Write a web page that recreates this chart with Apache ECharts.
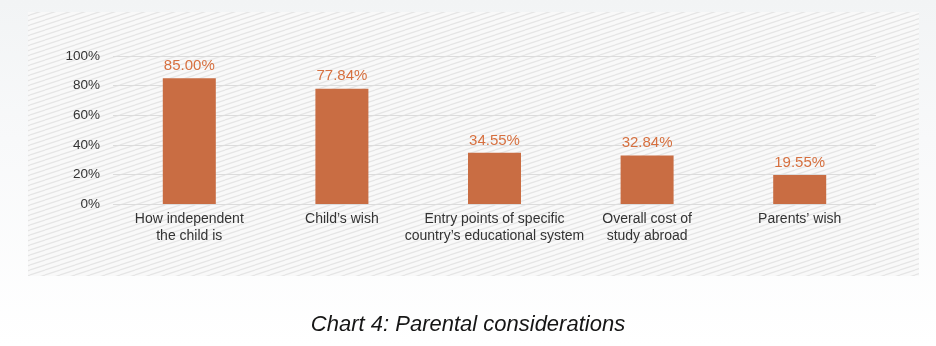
<!DOCTYPE html>
<html>
<head>
<meta charset="utf-8">
<script src="https://cdn.jsdelivr.net/npm/echarts@6/dist/echarts.min.js"></script>
<style>
  html, body { margin: 0; padding: 0; }
  body { width: 936px; height: 346px; background: linear-gradient(180deg, #f2f4f5 0%, #f8f9fa 40%, #ffffff 100%); }
  #chart { width: 936px; height: 346px; }
</style>
</head>
<body>
<div id="chart"></div>
<script>
// Parental considerations: share of respondents per factor
const categories = [
  'How independent\nthe child is',
  'Child\u2019s wish',
  'Entry points of specific\ncountry\u2019s educational system',
  'Overall cost of\nstudy abroad',
  'Parents\u2019 wish'
];
const shares = [85.00, 77.84, 34.55, 32.84, 19.55];
const yTicks = [0, 20, 40, 60, 80, 100];

const FONT = '"Liberation Sans", Arial, Helvetica, sans-serif';

// Diagonal hatch tile for the panel behind the plot
function hatchTile() {
  const c = document.createElement('canvas');
  const w = 15, h = 5;
  c.width = w; c.height = h;
  const ctx = c.getContext('2d');
  ctx.fillStyle = '#f9f9f9';
  ctx.fillRect(0, 0, w, h);
  ctx.strokeStyle = '#e5e5e5';
  ctx.lineWidth = 1.2;
  for (const dy of [-h, 0, h]) {
    ctx.beginPath();
    ctx.moveTo(0, h + dy);
    ctx.lineTo(w, 0 + dy);
    ctx.stroke();
  }
  return c;
}

const chart = echarts.init(document.getElementById('chart'), null, { renderer: 'canvas' });
chart.setOption({
  backgroundColor: 'transparent',
  animation: false,
  graphic: [
    {
      type: 'rect',
      z: -10,
      shape: { x: 28, y: 12, width: 891, height: 264 },
      style: { fill: { image: hatchTile(), repeat: 'repeat' } }
    },
    {
      type: 'text',
      left: 'center',
      top: 314,
      style: {
        text: 'Chart 4: Parental considerations',
        font: 'italic 22px ' + FONT,
        fill: '#161616'
      }
    }
  ],
  grid: { left: 113, right: 60, top: 56, bottom: 142 },
  xAxis: {
    type: 'category',
    data: categories,
    axisLine: { show: false },
    axisTick: { show: false },
    axisLabel: {
      interval: 0,
      margin: 7,
      color: '#333333',
      fontSize: 14,
      fontFamily: FONT,
      lineHeight: 17
    }
  },
  yAxis: {
    type: 'value',
    min: yTicks[0],
    max: yTicks[yTicks.length - 1],
    interval: 20,
    axisLine: { show: false },
    axisTick: { show: false },
    axisLabel: {
      formatter: '{value}%',
      margin: 13,
      color: '#333333',
      fontSize: 13.5,
      fontFamily: FONT
    },
    splitLine: { lineStyle: { color: '#dcdcdc', width: 1.2 } }
  },
  series: [{
    type: 'bar',
    data: shares,
    barWidth: 53,
    itemStyle: { color: '#c96d43' },
    label: {
      show: true,
      position: 'top',
      distance: 5,
      color: '#d7703f',
      fontSize: 15,
      fontFamily: FONT,
      formatter: p => p.value.toFixed(2) + '%'
    }
  }]
});
</script>
</body>
</html>
